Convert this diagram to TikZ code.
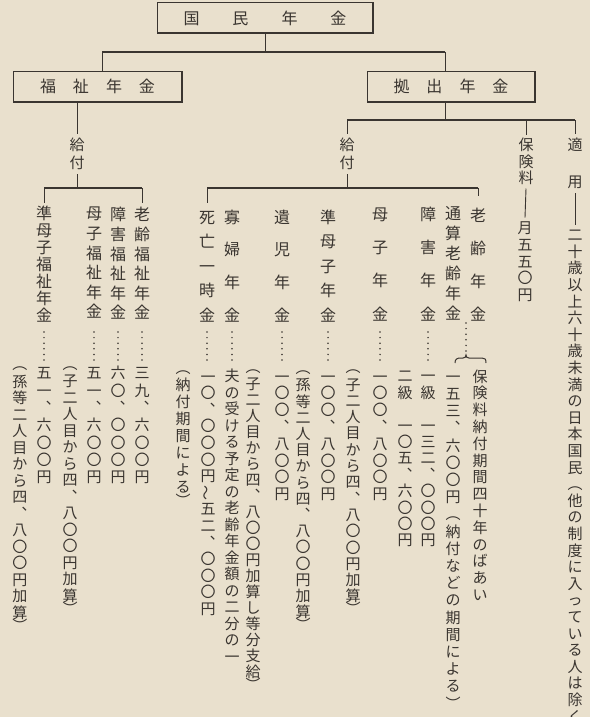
\documentclass[tikz,border=0pt]{standalone}
\usepackage{fontspec}
\usepackage{graphicx}
\newfontfamily\jp{Noto Sans CJK JP}
\definecolor{paper}{RGB}{233,224,205}
\definecolor{ink}{RGB}{58,53,48}
\ExplSyntaxOn
\dim_new:N \l_vtx_pitch_dim
\cs_new_protected:Npn \vtx_full:n #1
  {
    \hbox_to_wd:nn {1em}
      { \hss \vbox_to_ht:nn {\l_vtx_pitch_dim} { \vss \hbox:n { \rule[-.12em]{0pt}{1em} #1 } \vss } \hss }
  }
\cs_new_protected:Npn \vtx_half:n #1
  {
    \hbox_to_wd:nn {1em}
      { \hss \vbox_to_ht:nn {0.5\l_vtx_pitch_dim} { \vss \hbox:n { #1 } \vss } \hss }
  }
\NewDocumentCommand \vtext { O{16pt} m }
  {
    \dim_set:Nn \l_vtx_pitch_dim {#1}
    \vbox:n
      {
        \offinterlineskip
        \tl_map_inline:nn {#2}
          {
            \str_if_eq:nnTF {##1} {︵} { \vtx_half:n {##1} }
              {
                \str_if_eq:nnTF {##1} {︶} { \vtx_half:n {##1} } { \vtx_full:n {##1} }
              }
          }
      }
  }
\ExplSyntaxOff
% full-cell brackets
\newcommand\fo{︵\relax}
\newcommand\fc{︶\relax}
\tikzset{
  vt/.style={inner sep=0pt, outer sep=2pt, anchor=north, text=ink, font=\jp\fontsize{15pt}{15pt}\selectfont},
  vtn/.style={vt, font=\jp\fontsize{16pt}{16pt}\selectfont},
  box/.style={draw=ink, line width=1pt, inner sep=0pt, outer sep=0pt, text=ink, font=\jp\fontsize{16pt}{16pt}\selectfont},
  bus/.style={draw=ink, line width=1.6pt},
  drop/.style={draw=ink, line width=0.9pt},
  dotcol/.style={draw=ink, line width=1.7pt, line cap=round, dash pattern=on 0pt off 5.6pt},
}
\begin{document}
\begin{tikzpicture}[x=1pt,y=-1pt]
\fill[paper] (0,0) rectangle (590,717);
\useasboundingbox (0,0) rectangle (590,717);

% boxes
\node[box, minimum width=216pt, minimum height=30pt] (top) at (265,18) {国\hskip33pt 民\hskip33pt 年\hskip33pt 金};
\node[box, minimum width=169pt, minimum height=31pt] (fuku) at (97.5,86.5) {福\hskip17pt 祉\hskip17pt 年\hskip17pt 金};
\node[box, minimum width=168pt, minimum height=31pt] (kyo) at (451,86.5) {拠\hskip17pt 出\hskip17pt 年\hskip17pt 金};
\foreach \b in {top,fuku,kyo}{
  \draw[ink, line width=2pt] (\b.south west) -- (\b.south east) -- (\b.north east);
}

% first level bus
\coordinate (b0L) at (102,52);
\coordinate (b0R) at (445,52);
\draw[bus] (b0L) -- (b0R);
\draw[drop] (top.south) -- (top.south |- b0L);
\draw[drop] (b0L) -- (b0L |- fuku.north);
\draw[drop] (b0R) -- (b0R |- kyo.north);

% welfare side
\coordinate (f0) at (77,102);
\node[vt] (g1) at (77,134) {\vtext[18pt]{給付}};
\draw[drop] (f0) -- (g1.north);
\coordinate (b1L) at (44,188);
\coordinate (b1R) at (142,188);
\draw[drop] (g1.south) -- (g1.south |- b1L);
\draw[bus, line width=1.3pt] (b1L) -- (b1R);

\node[vtn] (lf1) at (142,203) {\vtext[19.6pt]{老齢福祉年金}};
\node[vtn] (lf2) at (118,203) {\vtext[19.6pt]{障害福祉年金}};
\node[vtn] (lf3) at (94,202) {\vtext[19.6pt]{母子福祉年金}};
\node[vtn] (lf4) at (44,202.5) {\vtext[17pt]{準母子福祉年金}};
\draw[drop] (b1L) -- (lf4.north);
\draw[drop] (b1R) -- (lf1.north);

\foreach \x in {142,118,94,44}{ \draw[dotcol] (\x,332) -- (\x,360); }

\node[vt] (ld1) at (142,362.5) {\vtext[17.3pt]{三九︑六〇〇円}};
\node[vt] (ld2) at (118,362.5) {\vtext[17.3pt]{六〇︑〇〇〇円}};
\node[vt] (ld3) at (94,362.5) {\vtext[17.3pt]{五一︑六〇〇円}};
\node[vt] (ld4) at (70,362.5) {\vtext[16.5pt]{︵子二人目から四︑八〇〇円加算︶}};
\node[vt] (ld5) at (44,362.5) {\vtext[17.3pt]{五一︑六〇〇円}};
\node[vt] (ld6) at (20,363) {\vtext[16.5pt]{︵孫等二人目から四︑八〇〇円加算︶}};

% contributory side
\coordinate (k0) at (445,102);
\coordinate (b2M) at (445,120);
\coordinate (b2L) at (347,120);
\coordinate (b2H) at (526,120);
\coordinate (b2R) at (575,120);
\draw[drop] (k0) -- (b2M);
\draw[bus] (b2L) -- (b2R);

\node[vt] (g2) at (347,134) {\vtext[18pt]{給付}};
\node[vt] (hk) at (526,135) {\vtext[16.5pt]{保険料}};
\node[vt] (tk) at (575,133.75) {\vtext[18.5pt]{適　用}};
\draw[drop] (b2L) -- (g2.north);
\draw[drop] (b2H) -- (hk.north);
\draw[drop] (b2R) -- (tk.north);

\node[vt] (getsu) at (525,217.6) {\vtext[16.75pt]{月五五〇円}};
\node[vt] (teki) at (575,224.7) {\vtext[16.6pt]{二十歳以上六十歳未満の日本国民\fo 他の制度に入っている人は除く\fc}};
\draw[drop] (hk.south) -- (getsu.north);
\draw[drop] (tk.south) -- (teki.north);

\coordinate (b3L) at (207,188);
\coordinate (b3R) at (478,188);
\draw[drop] (g2.south) -- (g2.south |- b3L);
\draw[bus, line width=1.3pt] (b3L) -- (b3R);

\node[vtn] (rn1) at (478,196.3) {\vtext[33.3pt]{老齢年金}};
\node[vtn] (rn2) at (453,201) {\vtext[20pt]{通算老齢年金}};
\node[vtn] (rn3) at (428,195.4) {\vtext[33.3pt]{障害年金}};
\node[vtn] (rn4) at (380,195.4) {\vtext[33.3pt]{母子年金}};
\node[vtn] (mn1) at (328,202.75) {\vtext[24.5pt]{準母子年金}};
\node[vtn] (mn2) at (282,198.6) {\vtext[32.7pt]{遺児年金}};
\node[vtn] (mn3) at (232,198.6) {\vtext[32.7pt]{寡婦年金}};
\node[vtn] (mn4) at (207,202.75) {\vtext[24.5pt]{死亡一時金}};
\draw[drop] (b3L) -- (mn4.north);
\draw[drop] (b3R) -- (rn1.north);

\foreach \x in {428,380,328,282,232,207}{ \draw[dotcol] (\x,332) -- (\x,360); }
\draw[dotcol] (466,323) -- (466,351);
\draw[ink, line width=1pt] (455,363) .. controls (455,359) and (457,358) .. (461,358) -- (463,358) .. controls (465,358) and (466,357) .. (466,355) .. controls (466,357) and (467,358) .. (469,358) -- (482,358) .. controls (485,358) and (486,359) .. (486,363);

\node[vt] (rd1) at (480,366) {\vtext[16.8pt]{保険料納付期間四十年のばあい}};
\node[vt] (rd2) at (453,366) {\vtext[17.2pt]{一五三︑六〇〇円\fo 納付などの期間による\fc}};
\node[vt] (rd3) at (428,366) {\vtext[16.4pt]{一級　一三二︑〇〇〇円}};
\node[vt] (rd4) at (405,366) {\vtext[16.4pt]{二級　一〇五︑六〇〇円}};
\node[vt] (rd5) at (380,366) {\vtext[16.8pt]{一〇〇︑八〇〇円}};
\node[vt] (rd6) at (353,366) {\vtext[16.3pt]{︵子二人目から四︑八〇〇円加算︶}};
\node[vt] (md1) at (328,366) {\vtext[16.8pt]{一〇〇︑八〇〇円}};
\node[vt] (md2) at (303,367) {\vtext[16.2pt]{︵孫等二人目から四︑八〇〇円加算︶}};
\node[vt] (md3) at (282,366) {\vtext[16.8pt]{一〇〇︑八〇〇円}};
\node[vt] (md4) at (253,366) {\vtext[16pt]{︵子二人目から四︑八〇〇円加算し等分支給︶}};
\node[vt] (md5) at (232,366) {\vtext[16.5pt]{夫の受ける予定の老齢年金額の二分の一}};
\node[vt] (md6) at (208,366) {\vtext[16.6pt]{一〇︑〇〇〇円{\rotatebox[origin=c]{90}{〜}}五二︑〇〇〇円}};
\node[vt] (md7) at (183,366) {\vtext[17pt]{︵納付期間による︶}};
\end{tikzpicture}
\end{document}
